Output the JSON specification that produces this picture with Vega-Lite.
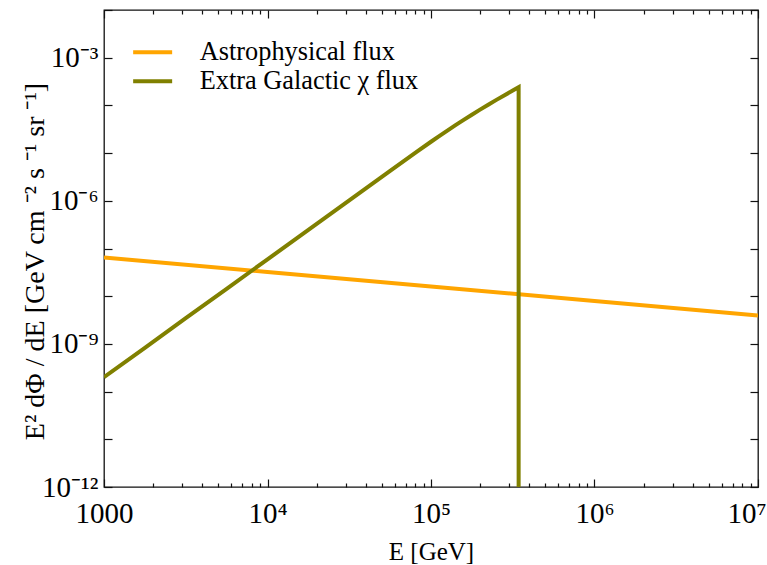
{
  "$schema": "https://vega.github.io/schema/vega-lite/v6.json",
  "width": 654,
  "height": 477,
  "autosize": {"type": "none"},
  "padding": {"left": 104, "top": 10, "right": 9, "bottom": 78},
  "background": "white",
  "data": {
    "values": [
      {"series": "Astrophysical flux", "i": 0, "E": 1000, "F": 6.5e-8},
      {"series": "Astrophysical flux", "i": 1, "E": 10000, "F": 3.22e-8},
      {"series": "Astrophysical flux", "i": 2, "E": 100000, "F": 1.60e-8},
      {"series": "Astrophysical flux", "i": 3, "E": 1000000, "F": 7.91e-9},
      {"series": "Astrophysical flux", "i": 4, "E": 10000000, "F": 3.92e-9},
      {"series": "Extra Galactic χ flux", "i": 0, "E": 1000, "F": 2.0e-10},
      {"series": "Extra Galactic χ flux", "i": 1, "E": 1778, "F": 8.3e-10},
      {"series": "Extra Galactic χ flux", "i": 2, "E": 3162, "F": 3.45e-9},
      {"series": "Extra Galactic χ flux", "i": 3, "E": 5623, "F": 1.43e-8},
      {"series": "Extra Galactic χ flux", "i": 4, "E": 10000, "F": 5.92e-8},
      {"series": "Extra Galactic χ flux", "i": 5, "E": 17783, "F": 2.45e-7},
      {"series": "Extra Galactic χ flux", "i": 6, "E": 31623, "F": 1.02e-6},
      {"series": "Extra Galactic χ flux", "i": 7, "E": 56234, "F": 4.22e-6},
      {"series": "Extra Galactic χ flux", "i": 8, "E": 82035, "F": 1.07e-5},
      {"series": "Extra Galactic χ flux", "i": 9, "E": 100000, "F": 1.73e-5},
      {"series": "Extra Galactic χ flux", "i": 10, "E": 112202, "F": 2.275e-5},
      {"series": "Extra Galactic χ flux", "i": 11, "E": 125893, "F": 2.97e-5},
      {"series": "Extra Galactic χ flux", "i": 12, "E": 141254, "F": 3.855e-5},
      {"series": "Extra Galactic χ flux", "i": 13, "E": 158489, "F": 4.98e-5},
      {"series": "Extra Galactic χ flux", "i": 14, "E": 177828, "F": 6.38e-5},
      {"series": "Extra Galactic χ flux", "i": 15, "E": 199526, "F": 8.15e-5},
      {"series": "Extra Galactic χ flux", "i": 16, "E": 223872, "F": 1.035e-4},
      {"series": "Extra Galactic χ flux", "i": 17, "E": 251189, "F": 1.306e-4},
      {"series": "Extra Galactic χ flux", "i": 18, "E": 281838, "F": 1.64e-4},
      {"series": "Extra Galactic χ flux", "i": 19, "E": 316228, "F": 2.05e-4},
      {"series": "Extra Galactic χ flux", "i": 20, "E": 343558, "F": 2.40e-4},
      {"series": "Extra Galactic χ flux", "i": 21, "E": 343558, "F": 1e-12}
    ]
  },
  "layer": [
    {
      "mark": {"type": "line", "strokeWidth": 4, "clip": true},
      "encoding": {
        "x": {
          "field": "E", "type": "quantitative",
          "scale": {"type": "log", "domain": [1000, 10000000], "nice": false},
          "axis": {
            "orient": "bottom",
            "values": [1000, 2000, 3000, 4000, 5000, 6000, 7000, 8000, 9000, 10000, 20000, 30000, 40000, 50000, 60000, 70000, 80000, 90000, 100000, 200000, 300000, 400000, 500000, 600000, 700000, 800000, 900000, 1000000, 2000000, 3000000, 4000000, 5000000, 6000000, 7000000, 8000000, 9000000, 10000000],
            "labelExpr": "abs(log(datum.value)/LN10 - round(log(datum.value)/LN10)) > 0.001 ? '' : datum.value == 1000 ? '1000' : '10' + ['⁰','¹','²','³','⁴','⁵','⁶','⁷','⁸','⁹'][round(log(datum.value)/LN10)]",
            "tickSize": {"condition": {"test": "abs(log(datum.value)/LN10 - round(log(datum.value)/LN10)) < 0.001", "value": -8}, "value": -4},
            "labelAlign": {"condition": {"test": "datum.value == 10000000", "value": "right"}, "value": "center"},
            "labelOffset": {"condition": {"test": "datum.value == 10000000", "value": 8}, "value": 0},
            "labelPadding": 20,
            "labelFontSize": 29,
            "labelFlush": false,
            "labelOverlap": false,
            "title": "E [GeV]",
            "titleFontSize": 25,
            "titlePadding": 7
          }
        },
        "y": {
          "field": "F", "type": "quantitative",
          "scale": {"type": "log", "domain": [1e-12, 1e-2], "nice": false},
          "axis": {
            "orient": "left",
            "values": [1e-12, 1e-11, 1e-10, 1e-9, 1e-8, 1e-7, 1e-6, 1e-5, 1e-4, 1e-3, 1e-2],
            "labelExpr": "round(log(datum.value)/LN10) == -12 ? '10⁻¹²' : round(log(datum.value)/LN10) == -9 ? '10⁻⁹' : round(log(datum.value)/LN10) == -6 ? '10⁻⁶' : round(log(datum.value)/LN10) == -3 ? '10⁻³' : ''",
            "tickSize": -8,
            "labelPadding": 14,
            "labelFontSize": 29,
            "labelFlush": false,
            "labelOverlap": false,
            "title": "E² dΦ / dE  [GeV cm ⁻² s ⁻¹ sr ⁻¹]",
            "titleFontSize": 28,
            "titleX": -55,
            "titleY": 251
          }
        },
        "color": {
          "field": "series", "type": "nominal",
          "scale": {"domain": ["Astrophysical flux", "Extra Galactic χ flux"], "range": ["#FFA500", "#808000"]},
          "legend": {
            "orient": "none",
            "legendX": 35.5,
            "legendY": 29,
            "title": null,
            "symbolType": "M-3,0H3",
            "symbolSize": 169,
            "symbolStrokeWidth": 4,
            "labelFontSize": 26.3,
            "labelFont": "Liberation Serif",
            "labelColor": "#000",
            "labelOffset": 34,
            "labelLimit": 500,
            "rowPadding": 2,
            "padding": 0
          }
        },
        "order": {"field": "i", "type": "quantitative"}
      }
    },
    {
      "mark": {"type": "point", "opacity": 0},
      "encoding": {
        "x": {
          "field": "E", "type": "quantitative",
          "axis": {
            "orient": "top",
            "values": [1000, 2000, 3000, 4000, 5000, 6000, 7000, 8000, 9000, 10000, 20000, 30000, 40000, 50000, 60000, 70000, 80000, 90000, 100000, 200000, 300000, 400000, 500000, 600000, 700000, 800000, 900000, 1000000, 2000000, 3000000, 4000000, 5000000, 6000000, 7000000, 8000000, 9000000, 10000000],
            "labels": false,
            "tickSize": {"condition": {"test": "abs(log(datum.value)/LN10 - round(log(datum.value)/LN10)) < 0.001", "value": -8}, "value": -4},
            "title": null
          }
        },
        "y": {
          "field": "F", "type": "quantitative",
          "axis": {
            "orient": "right",
            "values": [1e-12, 1e-11, 1e-10, 1e-9, 1e-8, 1e-7, 1e-6, 1e-5, 1e-4, 1e-3, 1e-2],
            "labels": false, "tickSize": -8, "title": null
          }
        }
      }
    }
  ],
  "resolve": {"axis": {"x": "independent", "y": "independent"}},
  "config": {
    "view": {"stroke": "#111", "strokeWidth": 1.3},
    "font": "Liberation Serif",
    "axis": {
      "domain": false,
      "grid": false,
      "tickColor": "#111",
      "tickWidth": 1.2,
      "labelColor": "#000",
      "titleColor": "#000",
      "labelFont": "Liberation Serif",
      "titleFont": "Liberation Serif",
      "titleFontWeight": "normal"
    }
  }
}
